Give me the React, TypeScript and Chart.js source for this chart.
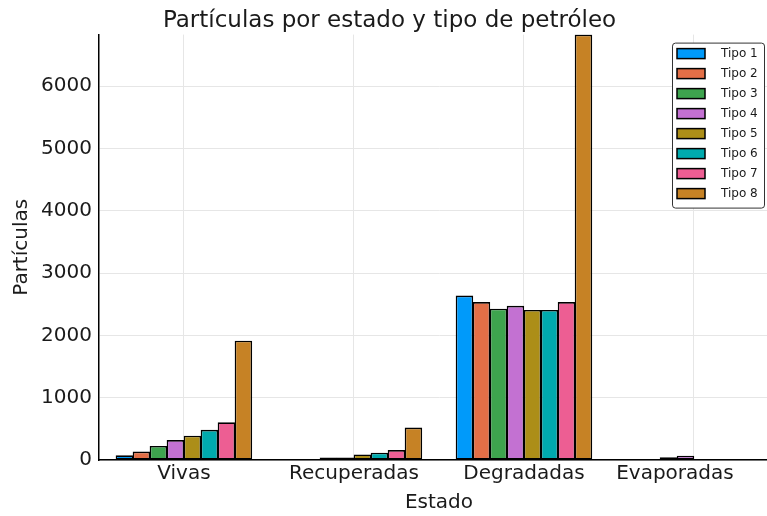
import React, { useEffect, useRef } from "react";
import { Chart, registerables } from "chart.js";

Chart.register(...registerables);

const categories = ["Vivas", "Recuperadas", "Degradadas", "Evaporadas"];
const seriesNames = ["Tipo 1", "Tipo 2", "Tipo 3", "Tipo 4", "Tipo 5", "Tipo 6", "Tipo 7", "Tipo 8"];
const tipo1 = [75, 15, 2640, 15];
const tipo2 = [135, 15, 2535, 15];
const tipo3 = [225, 40, 2430, 45];
const tipo4 = [320, 40, 2475, 70];
const tipo5 = [390, 88, 2410, 0];
const tipo6 = [485, 118, 2410, 0];
const tipo7 = [605, 160, 2535, 0];
const tipo8 = [1915, 520, 6830, 0];
const seriesValues = [tipo1, tipo2, tipo3, tipo4, tipo5, tipo6, tipo7, tipo8];
const seriesColors = ["#009AFA", "#E36F47", "#3EA44E", "#C371D2", "#AC8E18", "#00AAAE", "#ED5E93", "#C68225"];
const yTicks = [0, 1000, 2000, 3000, 4000, 5000, 6000];
const yMax = 6830;

const FONT = "'DejaVu Sans', sans-serif";
const TEXT = "#1a1a1a";

const boxLegend = {
  id: "boxLegend",
  afterDraw(chart: any) {
    const ctx = chart.ctx;
    const area = chart.chartArea;
    const datasets = chart.data.datasets;
    const w = 92;
    const rowH = 20;
    const h = datasets.length * rowH + 5;
    const x0 = area.right - 107;
    const y0 = area.top + 8;
    ctx.save();
    ctx.beginPath();
    if ((ctx as any).roundRect) {
      (ctx as any).roundRect(x0 + 0.5, y0 + 0.5, w, h, 3);
    } else {
      ctx.rect(x0 + 0.5, y0 + 0.5, w, h);
    }
    ctx.fillStyle = "#ffffff";
    ctx.fill();
    ctx.strokeStyle = "#333333";
    ctx.lineWidth = 1;
    ctx.stroke();
    ctx.font = `12px ${FONT}`;
    ctx.textBaseline = "middle";
    ctx.textAlign = "left";
    datasets.forEach((ds: any, i: number) => {
      const cy = y0 + 11 + i * rowH;
      ctx.fillStyle = ds.backgroundColor;
      ctx.fillRect(x0 + 5, cy - 5, 28, 10);
      ctx.strokeStyle = "#000";
      ctx.lineWidth = 1.5;
      ctx.strokeRect(x0 + 5, cy - 5, 28, 10);
      ctx.fillStyle = TEXT;
      ctx.fillText(ds.label, x0 + 49, cy);
    });
    ctx.restore();
  },
};

export default function App() {
  const canvasRef = useRef<HTMLCanvasElement | null>(null);

  useEffect(() => {
    if (!canvasRef.current) return;
    const chart = new Chart(canvasRef.current, {
      type: "bar",
      data: {
        labels: categories,
        datasets: seriesNames.map((name, i) => ({
          label: name,
          data: seriesValues[i],
          backgroundColor: seriesColors[i],
          borderColor: "#000000",
          borderWidth: 1.6,
          borderSkipped: false,
          inflateAmount: 0,
          categoryPercentage: 0.8,
          barPercentage: 1.03,
        })),
      },
      options: {
        responsive: false,
        animation: false,
        layout: { padding: { left: 0, right: 11, top: 0, bottom: 0 } },
        plugins: {
          legend: { display: false },
          tooltip: { enabled: false },
          title: {
            display: true,
            text: "Partículas por estado y tipo de petróleo",
            color: TEXT,
            font: { family: FONT, size: 23, weight: "normal" },
            padding: { top: 7, bottom: 0 },
          },
        },
        scales: {
          x: {
            type: "category",
            offset: true,
            grid: { offset: false, color: "#e6e6e6", drawTicks: false },
            border: { color: "#000", width: 1.5 },
            ticks: {
              color: TEXT,
              font: { family: FONT, size: 20 },
              padding: 2,
              maxRotation: 0,
              autoSkip: false,
              callback: (_v: any, i: number) =>
                i === categories.length - 1 ? categories[i] + "\u00a0".repeat(6) : categories[i],
            },
            title: {
              display: true,
              text: "Estado",
              color: TEXT,
              font: { family: FONT, size: 20 },
              padding: { top: 3, bottom: 1 },
            },
          },
          y: {
            min: 0,
            max: yMax,
            grid: { color: "#e6e6e6", drawTicks: false },
            border: { color: "#000", width: 1.5 },
            afterBuildTicks: (scale: any) => {
              scale.ticks = yTicks.map((v) => ({ value: v }));
            },
            ticks: {
              color: TEXT,
              font: { family: FONT, size: 20 },
              padding: 7,
              callback: (v: any) => String(v),
            },
            title: {
              display: true,
              text: "Partículas",
              color: TEXT,
              font: { family: FONT, size: 20 },
              padding: { top: 10, bottom: 0 },
            },
          },
        },
      },
      plugins: [boxLegend],
    });
    return () => chart.destroy();
  }, []);

  return (
    <div
      style={{
        position: "fixed",
        left: 0,
        top: 0,
        width: 767,
        height: 516,
        overflow: "hidden",
        background: "#ffffff",
      }}
    >
      <canvas ref={canvasRef} width={790} height={516} style={{ display: "block", width: 790, height: 516 }} />
    </div>
  );
}
